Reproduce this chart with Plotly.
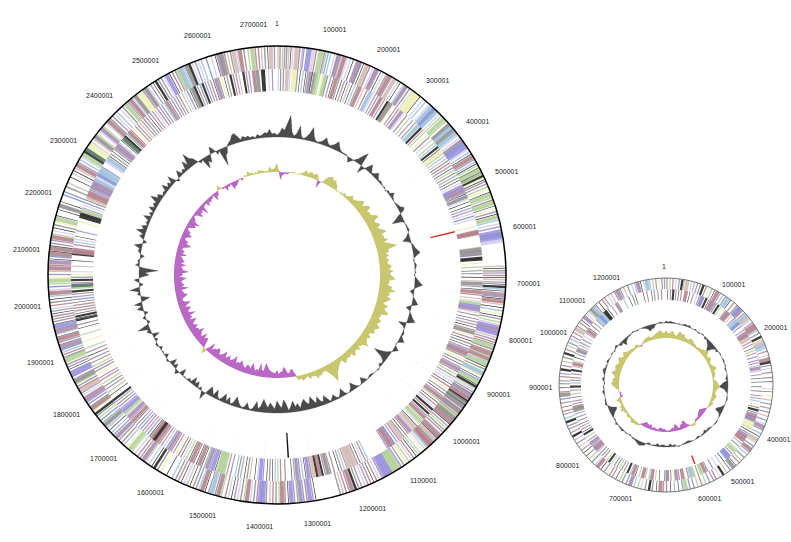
import math
import plotly.graph_objects as go

WIDTH, HEIGHT = 791, 542
BIG_LEN, SMALL_LEN = 2740, 1290  # kb

# functional class colours, a capital letter in the lists means a long gene
CLASS_COLOURS = {
    'k': '#1a1a1a', 'g': '#8c8c8c', 'm': '#a387ae', 'r': '#ae7c87', 'b': '#7f8bd0', 's': '#9cc0d8',
    'n': '#afcf94', 'y': '#efefb0', 't': '#d0b9b1', 'v': '#958bdc', 'l': '#ccCdeb', 'e': '#82aea6',
    'p': '#dfc3d0', 'd': '#4f6d58',
}

# gene position in kb + class letter
BIG_FWD = """
2t 6r 11n 15m 19g 23t 27k 31l 38T 44r 49s 52m 58b 63V 69l 72p 76r 81n 86N 92r 95s 99e 104s 112l 117g 121M
126p 131R 137l 143l 149k 156m 161M 165g 170k 177T 183r 190l 194m 198M 206k 212l 218g 224R 229m 236T 244l 249k
256s 262M 270g 276l 282Y 289Y 295k 303l 309s 318l 324S 331B 337S 345l 350n 357N 363n 372G 378S 385G 392S 398l
404l 411M 418B 425V 431l 437s 442k 448R 454m 459s 463k 467n 472d 476N 481k 484k 487N 490K 493y 497k 501g 506m
512n 517y 523k 528N 534n 539g 545N 551k 556y 562m 567k 573N 579s 586l 592v 601V 607B 613V 619L 668t 672k 677g
681m 686r 690k 694t 699m 703k 708K 712s 716k 720r 725M 731k 736R 742t 748k 754s 760y 765k 770g 776n 781p 787V
793M 799V 806t 811m 816r 820k 825N 830g 835r 840R 845n 850R 856s 861N 866k 871g 876n 880S 885y 890k 894b 899N
904k 908K 912n 916l 920g 924k 928M 933g 937R 941K 945G 949k 953G 957m 961r 965G 969m 973r 977N 982G 986g 991R
996k 1001m 1006n 1011g 1016r 1022m 1027R 1032k 1037T 1042g 1047R 1052R 1058s 1063l 1068y 1074l 1079n 1084k 1090r 1095l
1101n 1107y 1113g 1119b 1125N 1131N 1137N 1143V 1149V 1155V 1161m 1167l 1173r 1179k 1185r 1191m 1197l 1204m 1210g 1216K
1223R 1229m 1235r 1241t 1247g 1295k 1300m 1306V 1312r 1318b 1324M 1330e 1336m 1342V 1348k 1354r 1360R 1366n 1372g 1378r
1384t 1391g 1397V 1403V 1409r 1415g 1421l 1428R 1434n 1440g 1446l 1452m 1458k 1464l 1470r 1478n 1484R 1490g 1497S 1503m
1510k 1516R 1522s 1528b 1534g 1541k 1547t 1553l 1559k 1565r 1571g 1578s 1590k 1603y 1610g 1617K 1623k 1630l 1637n 1643M
1650r 1656m 1663l 1670n 1676N 1683y 1690s 1696r 1703g 1710M 1717b 1723s 1729k 1735s 1742G 1748e 1754b 1760n 1765k 1770K
1776y 1782R 1787g 1793b 1798m 1803M 1808r 1813l 1818m 1823T 1828r 1833g 1838n 1843G 1848m 1854b 1859V 1864b 1869k 1874m
1879g 1884n 1889N 1894g 1899r 1904s 1909b 1914M 1919g 1924m 1930R 1935k 1940l 1945M 1950g 1955V 1960k 1965m 1970g 1975r
1980k 1985m 1990l 1996r 2002g 2008k 2014s 2020R 2026l 2032b 2038n 2044N 2050y 2056m 2062t 2068R 2074r 2080M 2086k 2091b
2096R 2101k 2106R 2111k 2116g 2122m 2128R 2134n 2140l 2146k 2152g 2158y 2164N 2170k 2182k 2190G 2198k 2212b 2218b 2228g
2236t 2248k 2256l 2262k 2268t 2274R 2280m 2286s 2292l 2298N 2304K 2309D 2315y 2321Y 2327l 2333t 2339G 2345n 2352l 2358M
2364n 2372l 2378R 2384g 2390m 2396l 2402s 2410l 2416g 2424N 2430m 2436R 2442l 2448G 2454y 2460Y 2466m 2472G 2478l 2484m
2490k 2496K 2502g 2508m 2514l 2520V 2526k 2532r 2538m 2544N 2550S 2556s 2562G 2568K 2574l 2580b 2586l 2592s 2602b 2612l
2620k 2626M 2632G 2638r 2644t 2650g 2656T 2662l 2668R 2676g 2684n 2692N 2698r 2704r 2710t 2716g 2722k 2728T 2735m
""".split()

BIG_REV = """
3l 8g 14r 22T 28l 33y 38Y 44g 50k 56s 62k 66g 72M 76k 82G 86N 92n 98y 104N 109g 116m 122k 128R 134g 140k 146m
152k 158t 164k 170s 176g 182R 190t 198r 206S 212l 218m 224g 232R 240m 248K 252r 256G 262y 270m 276r 284M 290l
298r 306n 314m 322g 330S 338K 344r 350n 358y 364g 372l 380n 386s 392K 398k 404Y 410n 416s 422t 428k 434r 440m
446k 452n 458g 464e 470r 476k 482l 490V 496M 502M 508k 514G 520l 526k 534k 540b 546m 552l 558b 564l 580y 592R
596R 626t 630G 634g 638G 642m 648K 652K 660y 668n 676k 682g 690k 698t 704G 710m 716k 722R 728r 736t 742l 748N
754V 760M 766l 772r 780k 786m 792g 798k 804r 810G 816y 822m 828k 834g 840k 846m 852M 858R 864g 870y 876g 882k
888m 894M 900r 906n 912m 918l 924l 930k 936r 942y 948m 954k 960m 966R 972n 978k 984r 990l 996K 1002r 1008K 1014m
1020R 1026n 1032N 1038l 1044k 1050T 1056t 1062M 1068r 1074k 1080g 1086T 1092r 1098v 1104b 1108M 1112r 1116R 1122v 1170s
1176r 1182l 1188k 1194r 1200T 1206T 1212T 1218m 1224n 1230v 1236k 1246g 1254r 1260G 1266m 1272K 1278R 1284K 1290T 1296r
1302V 1308k 1314s 1320b 1326M 1332e 1338k 1352g 1362r 1368n 1374s 1380k 1386g 1392k 1400b 1406V 1412l 1418k 1428n 1434r
1440k 1448e 1454g 1460s 1470r 1478m 1486N 1492N 1498N 1504k 1510V 1516b 1522M 1528e 1534k 1540R 1546k 1552r 1558R 1564k
1570n 1576l 1582k 1588r 1594y 1600m 1606r 1612M 1618b 1624l 1630m 1636r 1642R 1648K 1652K 1656R 1662k 1668v 1674m 1680r
1686b 1692v 1698m 1704k 1710R 1716m 1722M 1728l 1734N 1740V 1746v 1752m 1758g 1764m 1770K 1782k 1790n 1798m 1805g 1812n
1820r 1826m 1834y 1842g 1848m 1854n 1862r 1870g 1878k 1886m 1895n 1910y 1925n 1940k 1948g 1958K 1962k 1966K 1972k 1978r
1984g 1990r 1996k 2002b 2008m 2014g 2020K 2026n 2032D 2038m 2044K 2050g 2056y 2062l 2074t 2086k 2100K 2104R 2108R 2112m
2120r 2126s 2132l 2138k 2150v 2170y 2180K 2184K 2188K 2194N 2200v 2206l 2212b 2218k 2224T 2230R 2236R 2242b 2248M 2254M
2260M 2266S 2272l 2278B 2284S 2290S 2296b 2312L 2318S 2324k 2330g 2336k 2342g 2348M 2354M 2360l 2366k 2372D 2378K 2384e
2390R 2396r 2402y 2408r 2414g 2420t 2426r 2432g 2438m 2444k 2450r 2456m 2462l 2468r 2474m 2480b 2486n 2492M 2498r 2504g
2510b 2516m 2522r 2530n 2536l 2542b 2548k 2554G 2560K 2566m 2572g 2578K 2584b 2590m 2596r 2602k 2608M 2614g 2620y 2626k
2632g 2640K 2646r 2652m 2658t 2668K 2674r 2680b 2690R 2698G 2708K 2712K 2722l 2730m
""".split()

BIG_RNA_POS = [581, 1343]
BIG_RNA_CLASS = ['#d8302a', '#111111']
BIG_FAINT = [420, 720, 760, 800, 900, 930, 990, 1040, 1210, 1290, 1400, 1470, 1540, 1600, 1680, 1720, 1790, 1850, 1900, 1950]

SMALL_FWD = """
2g 8n 14r 20l 26m 32K 36n 42T 50l 56s 62m 68g 74K 80r 86y 92s 98k 104R 110m 116s 122g 128S 134k 142r 150g 156B 162M
170r 176S 182T 188l 194m 200R 206R 212s 218g 226K 232n 238T 244S 250s 256m 264l 272R 278K 284g 290l 298r 308g 316k 330l
336k 344y 352t 360r 368m 376g 384t 392b 400l 406M 412g 420s 426k 434T 440n 448b 456R 462m 468s 476g 484n 490r 498k 504G
512b 520n 528K 536l 544r 550m 558b 566n 574g 582t 590g 598b 606N 612b 620k 628s 636k 644r 650m 656R 664k 672g 678K 686r
694l 700n 708s 716M 724b 732g 738n 746k 754r 760m 766y 772b 780k 788R 794l 802g 810n 818r 826k 832m 840t 848g 856s 864K
872r 880b 886g 894K 902s 910m 916r 924k 932g 940b 948G 954r 962k 970m 976g 984r 990b 998K 1006m 1014t 1022g 1030K 1038r
1046n 1052g 1060s 1066m 1074r 1082T 1088g 1096r 1102k 1110M 1118l 1124n 1130G 1136S 1142r 1150k 1158r 1164m 1172l 1178t 1186r
1192M 1198g 1206t 1214g 1222l 1228s 1234M 1240k 1246l 1252S 1258s 1264n 1270r 1276y 1282k 1287m
""".split()

SMALL_REV = """
4k 10g 16K 22m 28k 34r 44R 52k 60g 68l 74m 80B 84m 90K 96k 102R 108M 114g 120K 126n 136y 142M 148R 156t 164m 170S 178B
186g 196m 204M 210R 218T 226r 232r 240k 246n 252r 260b 268m 274r 280s 286M 292t 300m 308r 316k 326g 336r 346g 352m 358s 366y
372r 378K 384k 390M 396R 402B 408Y 414Y 420n 426k 432b 438M 444R 450R 458k 466g 474n 480N 488r 496B 502V 512k 520s 530l
540b 552m 558R 566N 574g 584N 590S 596r 608R 616r 622M 628y 634r 642G 648g 660k 668n 676R 682s 690n 696R 704t 712k 718R
724s 730K 738r 744g 750n 756k 762b 770n 776K 782n 790r 796m 802g 808t 814M 820R 826b 832M 840g 848n 856K 862k 868r 874m
880k 888r 896g 904b 912G 918G 926r 932m 940k 948n 956m 964K 972s 978g 984r 992m 1000K 1008t 1014R 1020n 1028k 1036b 1044G
1050r 1056s 1062m 1070g 1078l 1086m 1092R 1098k 1106r 1114m 1122g 1128S 1134B 1140S 1146K 1150K 1156k 1166m 1178M 1196s 1208k
1216g 1222k 1240k 1248r 1258k 1264g 1272m 1280r
""".split()

SMALL_RNA_POS = [573]
SMALL_FAINT = [345, 470, 490, 505]

BIG_LABEL_POS = [1, 100001, 200001, 300001, 400001, 500001, 600001, 700001, 800001, 900001, 1000001, 1100001, 1200001, 1300001,
                 1400001, 1500001, 1600001, 1700001, 1800001, 1900001, 2000001, 2100001, 2200001, 2300001, 2400001, 2500001,
                 2600001, 2700001]
SMALL_LABELS = ['1', '100001', '200001', '400001', '500001', '600001', '700001', '800001', '900001', '1000001', '1100001', '1200001']
SMALL_LABEL_X = [664, 733, 775, 778, 742, 709, 620, 567, 540, 553, 572, 606]
SMALL_LABEL_Y = [266, 284, 327, 439, 481, 498, 498, 465, 387, 332, 300, 277]

# deviation from the ring baseline, one value per degree
BIG_GC = [2, 4, 9, 7, 14, 22, 6, 2, 5, 13, 3, 1, 3, 7, 14, 6, 2, 1, 2, 4,
          8, 4, 2, 3, 5, 9, 5, 2, 1, 1, 1, -1, -5, -2, 1, 4, 9, 14, -8, -2,
          3, 8, 4, 1, 3, 6, 3, 1, 2, 1, 0, 1, -1, 2, 1, 5, 2, 1, 0, 1,
          2, 3, 6, 4, -3, -7, -12, -2, 0, 1, 1, 2, 0, -2, -4, -8, -2, 1, 2, 3,
          5, 7, 3, 0, -1, 1, 2, 1, 0, 1, -1, 1, 3, 5, 8, 3, -1, -4, -1, 0,
          2, 4, 6, -1, -5, -1, 1, 3, 5, 8, 2, -8, -2, 0, 1, 2, 1, 3, 6, 1,
          -1, 1, 5, 2, -1, -4, -9, -16, -6, -2, -1, -3, 0, 1, 0, 0, -1, -2, -1, 0,
          -3, -6, -1, 0, -1, -4, -8, -3, -1, 0, -2, -8, -4, -1, -2, -6, -3, -1, -5, -9,
          -3, -5, -10, -4, -8, -12, -5, -7, -11, -8, -3, -8, -5, -11, -6, -2, -9, -13, -5, -8,
          -12, -4, -7, -10, -5, -9, -13, -6, -3, -10, -4, -1, -2, -7, -2, -1, -3, -6, -10, -3,
          -1, -7, -2, -9, -4, -1, -3, -9, -2, -6, -9, -2, 8, 1, -3, 0, -6, -2, -8, -1,
          -3, 0, -1, 0, -7, 0, 4, 1, -5, -1, -7, 0, 2, 0, -4, 0, -1, 0, -3, 1,
          2, 0, -3, 0, -7, 1, 4, 2, 12, 1, -3, 0, 3, 0, -4, 1, 6, 1, 8, -2,
          -9, -1, 3, 1, 10, 0, -4, 1, 5, -2, -10, -6, -19, -4, 4, 1, 2, -1, -4, 1,
          3, 2, 8, 1, -4, 1, 5, 2, 10, 3, 6, 1, 3, 2, 8, 1, 4, 1, 7, 2,
          5, 3, 11, 4, 6, 1, 3, 2, 8, 2, 5, 2, 9, 1, -3, 2, 7, 1, 4, 2,
          10, 4, 15, 8, 6, 1, -3, -1, -12, -5, -8, -1, 7, 3, -4, -1, -18, -8, -6, 1,
          3, 5, 9, 10, 6, 2, 5, 3, 4, 2, 3, 1, 4, 2, 3, 5, 4, 8, 3, 4]

BIG_SKEW = [9, 2, -8, -3, -2, -1, -2, 1, 1, 1, 1, 0, 1, 1, 2, 4, 6, 3, 5, 6,
            4, 5, 6, 3, -8, -1, 1, 5, 8, 9, 10, 7, 9, 6, 5, 1, 1, 0, 2, 1,
            4, 2, 3, 5, 7, 4, 5, 6, 8, 10, 11, 7, 9, 12, 12, 7, 9, 8, 10, 13,
            14, 8, 9, 11, 12, 8, 10, 13, 15, 9, 11, 10, 14, 9, 13, 17, 21, 11, 12, 8,
            11, 7, 10, 9, 8, 11, 12, 9, 14, 10, 11, 13, 16, 9, 10, 8, 13, 12, 17, 10,
            12, 9, 14, 11, 9, 7, 13, 10, 10, 14, 15, 8, 9, 7, 11, 10, 8, 12, 12, 9,
            9, 11, 7, 6, 10, 7, 8, 9, 13, 8, 7, 5, 9, 6, 6, 8, 10, 5, 7, 6,
            6, 8, 9, 4, 5, 6, 8, 10, 12, 16, 20, 12, 8, 5, 4, 5, 7, 6, 9, 5,
            5, 4, 7, 3, 4, 5, 6, 3, 5, 2, -4, -8, -7, -4, -5, -9, -11, -6, -6, -4,
            -8, -5, -5, -6, -7, -9, -12, -14, -6, -7, -14, -6, -7, -5, -9, -12, -6, -8, -9, -5,
            -6, -8, -11, -7, -8, -6, -13, -9, -7, -6, -10, -7, -6, -12, -8, -6, -5, -9, -10, -7,
            -7, -4, -11, -5, 6, 2, -4, -9, -9, -7, -12, -6, -7, -9, -13, -8, -8, -6, -10, -7,
            -6, -9, -12, -5, -9, -7, -14, -8, -7, -10, -11, -6, -9, -13, -7, -5, -6, -9, -12, -8,
            -8, -6, -14, -7, -10, -8, -7, -9, -13, -6, -9, -8, -15, -9, -8, -7, -12, -6, -10, -8,
            -7, -5, -11, -6, -8, -5, -5, -9, -13, -7, -9, -5, -4, -7, -10, -6, -7, -3, -3, -6,
            -9, -7, -12, -5, -5, -2, -2, -4, -9, -5, -6, -4, -11, -3, -3, -2, -7, -3, -5, -3,
            -3, -1, -8, -4, -4, 1, 5, 1, -2, -1, -6, -2, -3, -1, -8, -5, -5, -3, -1, 1,
            -3, 0, 2, 1, 5, 2, 3, 1, 2, 1, 4, 2, 3, 1, 2, 1, 6, 3, 3, 5]

# one value every 2 degrees
SMALL_GC = [2, 1, 2, 1, 1, 0, 1, 0, 1, 2, 1, 2, 0, 0, 1, 0, -1, 0, 1, 0,
            -2, -1, -3, -4, -7, -9, -4, -1, -2, 0, 1, 0, 0, 1, 1, 0, 1, -1, -1, 0,
            0, -1, -2, -1, -5, -7, -9, -4, -2, 0, 0, 1, 1, 0, 0, -1, -3, -6, -7, -2,
            -1, 0, 0, 1, 1, 0, 0, -1, -2, -1, -3, -1, -1, 0, -2, -1, 0, 0, -1, -2,
            -2, -1, -1, 0, 1, 0, -2, -1, -3, -1, -1, -2, -2, -1, -3, -1, -1, 0, -2, -1,
            2, 3, 4, 3, 2, 1, 1, 0, -1, 0, 1, 0, 2, 1, 1, 0, 2, 0, -1, 0,
            -2, -4, -7, -8, -3, -1, 2, 1, 1, 0, 0, 1, 2, 0, 1, 0, -1, 1, 2, 0,
            1, 2, 3, 1, 1, 0, 2, 1, 0, 0, 1, 0, -1, 1, 2, 0, -3, -1, -6, -3,
            -2, -1, -1, 0, 1, 0, -1, 0, 0, -1, -2, -3, -6, -4, -4, -1, 0, 1, 1, 0]

SMALL_SKEW = [8, 5, 5, 7, 7, 4, 3, 8, 8, 6, 7, 4, 4, 3, 6, 5, 5, 3, 3, 2,
              2, 3, 3, 4, 5, 6, 7, 4, 3, 5, 5, 3, 2, 3, 4, 6, 6, 3, 4, 3,
              3, 1, 2, 4, 5, 6, 7, 5, 4, 3, 3, 4, 5, 4, 3, 2, 4, 3, 2, 1,
              -1, -3, -4, -6, -5, -5, -4, -3, -2, -2, -2, 1, 3, 2, 2, -1, -3, -7, -8, -5,
              -5, -2, -3, -6, -7, -3, -4, -2, -2, -1, -2, -3, -3, -4, -4, -2, -2, -3, -3, -2,
              -5, -4, -4, -5, -5, -3, -2, 2, 2, 3, 3, 4, 4, 2, 2, 3, 3, 1, 3, 2,
              6, 3, 4, 2, 2, 3, 5, 3, -3, -1, -2, 1, 1, 3, 5, 7, 8, 6, 7, 5,
              5, 8, 9, 6, 6, 7, 7, 5, 5, 7, 8, 5, 4, 6, 7, 4, 4, 3, 3, 2,
              2, 3, 3, -1, -2, 1, 2, 3, 4, 4, 5, 3, 3, 4, 5, 6, 7, 8, 6, 5]

GC_COLOUR = '#4b4b4b'
SKEW_POS_COLOUR = '#c9c670'
SKEW_NEG_COLOUR = '#b968c6'


def gene_width(code, thin, wide):
    # black genes read heavier than the pastel ones
    if code == 'K':
        return wide * 0.6
    if code == 'k':
        return thin * 0.5
    return wide if code.isupper() else thin


def add_genes(fig, genes, length, inner, outer, thin, wide, subplot):
    pos = [float(g[:-1]) / length * 360 for g in genes]
    fig.add_trace(go.Barpolar(
        theta=pos,
        r=[outer - inner] * len(genes),
        base=inner,
        width=[gene_width(g[-1], thin, wide) for g in genes],
        marker=dict(color=[CLASS_COLOURS[g[-1].lower()] for g in genes], line=dict(width=0), opacity=0.85),
        hoverinfo='skip',
        subplot=subplot,
    ))


def add_ring(fig, dev, base, colour, line_width, subplot):
    step = 360 / len(dev)
    theta = [i * step for i in range(len(dev))] + [360]
    r = [base + d for d in dev] + [base + dev[0]]
    fig.add_trace(go.Scatterpolar(
        theta=theta + theta[::-1],
        r=r + [base] * len(theta),
        mode='lines',
        line=dict(width=line_width, color=colour),
        fill='toself',
        fillcolor=colour,
        hoverinfo='skip',
        subplot=subplot,
    ))


def add_ticks(fig, pos, colours, length, inner, outer, width, subplot):
    fig.add_trace(go.Barpolar(
        theta=[p / length * 360 for p in pos],
        r=[outer - inner] * len(pos),
        base=inner,
        width=[width] * len(pos),
        marker=dict(color=colours, line=dict(width=0)),
        hoverinfo='skip',
        subplot=subplot,
    ))


fig = go.Figure()

# big chromosome
add_genes(fig, BIG_FWD, BIG_LEN, 206, 229, 0.36, 1.05, 'polar')
add_genes(fig, BIG_REV, BIG_LEN, 184, 206, 0.36, 1.05, 'polar')
add_ticks(fig, BIG_FAINT, ['#f1f3dc'] * len(BIG_FAINT), BIG_LEN, 160, 183, 0.12, 'polar')
add_ticks(fig, BIG_RNA_POS, BIG_RNA_CLASS, BIG_LEN, 158, 183, 0.45, 'polar')
add_ring(fig, BIG_GC, 138, GC_COLOUR, 0.3, 'polar')
add_ring(fig, [max(d, 0) for d in BIG_SKEW], 103, SKEW_POS_COLOUR, 0, 'polar')
add_ring(fig, [min(d, 0) for d in BIG_SKEW], 103, SKEW_NEG_COLOUR, 0, 'polar')

# small chromosome
add_genes(fig, SMALL_FWD, SMALL_LEN, 96, 107, 0.7, 2.2, 'polar2')
add_genes(fig, SMALL_REV, SMALL_LEN, 85, 96, 0.7, 2.2, 'polar2')
add_ticks(fig, SMALL_FAINT, ['#f1f3dc'] * len(SMALL_FAINT), SMALL_LEN, 74, 84, 0.25, 'polar2')
add_ticks(fig, SMALL_RNA_POS, ['#d8302a'], SMALL_LEN, 75, 84, 1.0, 'polar2')
add_ring(fig, SMALL_GC, 62, GC_COLOUR, 0.3, 'polar2')
add_ring(fig, [max(d, 0) for d in SMALL_SKEW], 47, SKEW_POS_COLOUR, 0, 'polar2')
add_ring(fig, [min(d, 0) for d in SMALL_SKEW], 47, SKEW_NEG_COLOUR, 0, 'polar2')


def polar_layout(cx, cy, radius, line_colour, line_width):
    return dict(
        domain=dict(x=[(cx - radius) / WIDTH, (cx + radius) / WIDTH],
                    y=[1 - (cy + radius) / HEIGHT, 1 - (cy - radius) / HEIGHT]),
        bgcolor='rgba(0,0,0,0)',
        barmode='overlay',
        radialaxis=dict(visible=False, range=[0, radius]),
        angularaxis=dict(rotation=90, direction='clockwise', showgrid=False, ticks='',
                         showticklabels=False, showline=True, linecolor=line_colour, linewidth=line_width),
    )


def label(text, x, y):
    return dict(x=x / WIDTH, y=1 - y / HEIGHT, text=text, showarrow=False, xref='paper', yref='paper',
                xanchor='center', yanchor='middle')


annotations = []
for p in BIG_LABEL_POS:
    a = math.radians(p / 1000 / BIG_LEN * 360)
    annotations.append(label(str(p), 277 + 252 * math.sin(a), 275 - 252 * math.cos(a)))
for lab, x, y in zip(SMALL_LABELS, SMALL_LABEL_X, SMALL_LABEL_Y):
    annotations.append(label(lab, x, y))

fig.update_layout(
    width=WIDTH,
    height=HEIGHT,
    margin=dict(l=0, r=0, t=0, b=0),
    paper_bgcolor='white',
    showlegend=False,
    font=dict(family='Liberation Sans', size=7, color='#222222'),
    polar=polar_layout(277, 275, 229, '#000000', 1.5),
    polar2=polar_layout(666, 385, 107, '#555555', 0.8),
    annotations=annotations,
)

fig.write_html("out.html", config={'displayModeBar': False}, post_script="document.body.style.margin='0';")
